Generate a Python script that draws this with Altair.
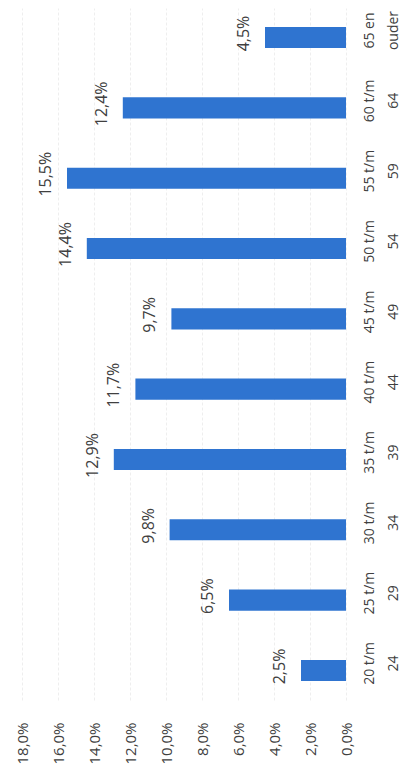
import altair as alt
import pandas as pd

categories = ["20 t/m|24", "25 t/m|29", "30 t/m|34", "35 t/m|39", "40 t/m|44",
              "45 t/m|49", "50 t/m|54", "55 t/m|59", "60 t/m|64", "65 en|ouder"]
values = [2.5, 6.5, 9.8, 12.9, 11.7, 9.7, 14.4, 15.5, 12.4, 4.5]
ticks = [0, 2, 4, 6, 8, 10, 12, 14, 16, 18]

df = pd.DataFrame({"cat": categories, "val": values})
order = list(reversed(categories))

FONT = "Open Sans"
TXT = "#404040"

x = alt.X("val:Q",
          scale=alt.Scale(domain=[0, 18], reverse=True, nice=False),
          axis=alt.Axis(values=ticks, title=None, orient="bottom",
                        labelExpr="replace(format(datum.value, '.1f'), '.', ',') + '%'",
                        labelAngle=270, labelAlign="right", labelBaseline="middle",
                        labelPadding=22, labelFontSize=15, labelFont=FONT, labelColor=TXT,
                        labelOverlap=False, labelBound=False, labelFlush=False,
                        domain=False, ticks=False, grid=True, gridColor="#eeeeee",
                        gridWidth=1, gridDash=[3, 2]))
y = alt.Y("cat:N", sort=order,
          scale=alt.Scale(paddingInner=0.70, paddingOuter=0.27, align=0.5),
          axis=alt.Axis(title=None, orient="right", domain=False, ticks=False, grid=False,
                        labelExpr="split(datum.label, '|')", labelAngle=270,
                        labelAlign="center", labelBaseline="top", labelLineHeight=24,
                        labelPadding=16, labelOffset=-7, labelFontSize=14,
                        labelOverlap=False, labelBound=False,
                        labelFont=FONT, labelColor=TXT))

base = alt.Chart(df).transform_calculate(
    lab="replace(format(datum.val, '.1f'), '.', ',') + '%'"
).encode(x=x, y=y)

bars = base.mark_bar(color="#2f74d0")

labels = base.mark_text(angle=270, align="center", baseline="middle", dy=-21, dx=4,
                        fontSize=16, font=FONT, color=TXT).encode(text="lab:N")

chart = (bars + labels).properties(
    width=324, height=692,
    autosize=alt.AutoSizeParams(type="none"),
    padding={"left": 14, "top": 0, "right": 54, "bottom": 67},
).configure_view(stroke=None)

chart.save("out.html", embed_options={"renderer": "svg", "actions": False})
